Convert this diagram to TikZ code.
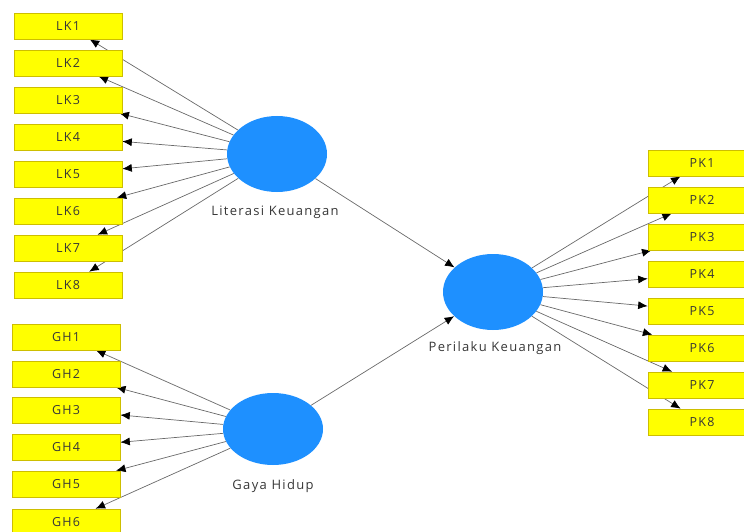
\documentclass[tikz,border=0pt]{standalone}
\usepackage{fontspec}
\setmainfont{Open Sans}
\newfontfamily\plsfont[LetterSpace=10]{Open Sans}
\usepackage{tikz}
\usetikzlibrary{shapes.geometric,arrows.meta,backgrounds}
\definecolor{plsyellow}{RGB}{255,255,0}
\definecolor{plsedge}{RGB}{205,190,0}
\definecolor{plsblue}{RGB}{30,144,255}
\definecolor{plsgrey}{RGB}{105,105,105}
\definecolor{plstext}{RGB}{55,55,55}

\begin{document}
\begin{tikzpicture}[x=1pt, y=-1pt,
    item/.style={rectangle, draw=plsedge, line width=0.6pt, fill=plsyellow,
        minimum width=108pt, minimum height=26pt, inner sep=0pt,
        font=\plsfont\fontsize{12.5}{14}\selectfont, text=plstext},
    latent/.style={ellipse, fill=plsblue, minimum width=100pt,
        minimum height=76pt, inner sep=0pt},
    lbl/.style={font=\plsfont\fontsize{13}{15}\selectfont, text=plstext},
    arr/.style={-{Latex[length=9.5pt, width=8pt, color=black]}, line width=0.7pt, plsgrey}
]
    \useasboundingbox (0,0) rectangle (744,532);

    % Latent variables
    \node[latent] (lk) at (277,154) {};
    \node[latent, minimum height=72pt] (gh) at (273,429) {};
    \node[latent] (pk) at (493,292) {};
    \node[lbl] (lklbl) at (275,212) {Literasi Keuangan};
    \node[lbl] (ghlbl) at (273,486) {Gaya Hidup};
    \node[lbl] (pklbl) at (495,348) {Perilaku Keuangan};

    % Indicators of Literasi Keuangan
    \node[item] (lk1) at (68,26) {LK1};
    \node[item] (lk2) at (68,63) {LK2};
    \node[item] (lk3) at (68,100) {LK3};
    \node[item] (lk4) at (68,137) {LK4};
    \node[item] (lk5) at (68,174) {LK5};
    \node[item] (lk6) at (68,211) {LK6};
    \node[item] (lk7) at (68,248) {LK7};
    \node[item] (lk8) at (68,285) {LK8};

    % Indicators of Gaya Hidup
    \node[item] (gh1) at (66,337) {GH1};
    \node[item] (gh2) at (66,374) {GH2};
    \node[item] (gh3) at (66,410) {GH3};
    \node[item] (gh4) at (66,447) {GH4};
    \node[item] (gh5) at (66,484) {GH5};
    \node[item] (gh6) at (66,522) {GH6};

    % Indicators of Perilaku Keuangan
    \node[item] (pk1) at (702,163) {PK1};
    \node[item] (pk2) at (702,200) {PK2};
    \node[item] (pk3) at (702,237) {PK3};
    \node[item] (pk4) at (702,274) {PK4};
    \node[item] (pk5) at (702,311) {PK5};
    \node[item] (pk6) at (702,348) {PK6};
    \node[item] (pk7) at (702,385) {PK7};
    \node[item] (pk8) at (702,422) {PK8};

    \begin{scope}[on background layer]
        % Outer loadings
        \draw[arr] (lk) -- (lk1);
        \draw[arr] (lk) -- (lk2);
        \draw[arr] (lk) -- (lk3);
        \draw[arr] (lk) -- (lk4);
        \draw[arr] (lk) -- (lk5);
        \draw[arr] (lk) -- (lk6);
        \draw[arr] (lk) -- (lk7);
        \draw[arr] (lk) -- (lk8);

        \draw[arr] (gh) -- (gh1);
        \draw[arr] (gh) -- (gh2);
        \draw[arr] (gh) -- (gh3);
        \draw[arr] (gh) -- (gh4);
        \draw[arr] (gh) -- (gh5);
        \draw[arr] (gh) -- (gh6);

        \draw[arr] (pk) -- (pk1);
        \draw[arr] (pk) -- (pk2);
        \draw[arr] (pk) -- (pk3);
        \draw[arr] (pk) -- (pk4);
        \draw[arr] (pk) -- (pk5);
        \draw[arr] (pk) -- (pk6);
        \draw[arr] (pk) -- (pk7);
        \draw[arr] (pk) -- (pk8);

        % Inner paths
        \draw[arr] (lk) -- (pk);
        \draw[arr] (gh) -- (pk);
    \end{scope}
\end{tikzpicture}
\end{document}
